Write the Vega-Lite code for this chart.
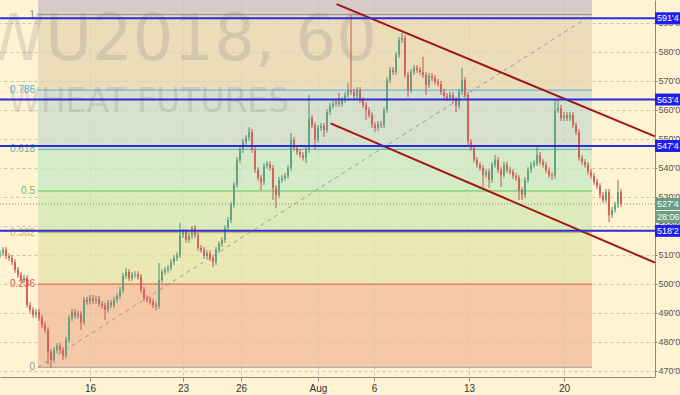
{
"$schema": "https://vega.github.io/schema/vega-lite/v6.json",
"width": 655, "height": 377,
"autosize": "none",
"padding": {"left": 0, "top": 0, "right": 25, "bottom": 18},
"background": "#FFF3D2",
"config": {"view": {"stroke": null}, "scale": {"continuousPadding": 0}, "axis": {"titleFontSize": 0, "titlePadding": 0, "labelOverlap": false, "labelSeparation": 0}, "axisY": {"labelOverlap": false}, "axisRight": {"labelOverlap": false}},
"datasets": {
"one": [{}],
"bands": [
{"band": "top", "lo": 592.75, "hi": 640},
{"band": "b786", "lo": 566.75, "hi": 592.75},
{"band": "b618", "lo": 546.34, "hi": 566.75},
{"band": "b5", "lo": 532.0, "hi": 546.34},
{"band": "b382", "lo": 517.66, "hi": 532.0},
{"band": "b236", "lo": 499.92, "hi": 517.66},
{"band": "b0", "lo": 471.25, "hi": 499.92}
],
"fib": [
{"lvl": "0", "p": 471.25},
{"lvl": "0.236", "p": 499.92},
{"lvl": "0.382", "p": 517.66},
{"lvl": "0.5", "p": 532.0},
{"lvl": "0.618", "p": 546.34},
{"lvl": "0.786", "p": 566.75},
{"lvl": "1", "p": 592.75}
],
"blue": [
{"p": 591.5, "lab": "591'4"},
{"p": 563.5, "lab": "563'4"},
{"p": 547.5, "lab": "547'4"},
{"p": 518.25, "lab": "518'2"}
],
"channel": [
{"i": 112.2, "p": 596.4, "i2": 218.33, "p2": 550.8},
{"i": 110.2, "p": 555.3, "i2": 218.33, "p2": 507.3}
],
"trend": [
{"i": 12.67, "p": 471.25, "i2": 197.33, "p2": 592.75}
],
"candles": [
{"i":0,"o":510.0,"h":511.6,"l":509.0,"c":510.6},
{"i":1,"o":510.6,"h":512.7,"l":509.6,"c":511.7},
{"i":2,"o":511.7,"h":512.7,"l":508.6,"c":509.6},
{"i":3,"o":509.6,"h":510.6,"l":507.9,"c":508.9},
{"i":4,"o":508.9,"h":509.9,"l":506.5,"c":507.5},
{"i":5,"o":507.5,"h":508.5,"l":503.8,"c":504.8},
{"i":6,"o":504.8,"h":505.8,"l":502.1,"c":503.1},
{"i":7,"o":503.1,"h":504.1,"l":500.3,"c":501.3},
{"i":8,"o":501.3,"h":503.0,"l":500.3,"c":502.0},
{"i":9,"o":502.0,"h":503.0,"l":491.7,"c":492.7},
{"i":10,"o":492.7,"h":493.7,"l":490.0,"c":491.0},
{"i":11,"o":491.0,"h":492.0,"l":488.3,"c":489.3},
{"i":12,"o":489.3,"h":491.3,"l":488.3,"c":490.3},
{"i":13,"o":490.3,"h":491.3,"l":487.2,"c":488.2},
{"i":14,"o":488.2,"h":489.2,"l":484.8,"c":485.8},
{"i":15,"o":485.8,"h":486.8,"l":483.1,"c":484.1},
{"i":16,"o":484.1,"h":485.1,"l":472.1,"c":476.5},
{"i":17,"o":476.5,"h":477.5,"l":471.25,"c":473.8},
{"i":18,"o":473.8,"h":478.2,"l":472.8,"c":477.2},
{"i":19,"o":477.2,"h":479.6,"l":476.2,"c":478.6},
{"i":20,"o":478.6,"h":479.6,"l":476.2,"c":477.2},
{"i":21,"o":477.2,"h":478.2,"l":473.8,"c":475.2},
{"i":22,"o":475.2,"h":481.7,"l":474.2,"c":480.7},
{"i":23,"o":480.7,"h":489.2,"l":479.7,"c":488.2},
{"i":24,"o":488.2,"h":491.3,"l":487.2,"c":490.3},
{"i":25,"o":490.3,"h":491.3,"l":488.0,"c":489.0},
{"i":26,"o":489.0,"h":490.6,"l":488.0,"c":489.6},
{"i":27,"o":489.6,"h":490.6,"l":484.1,"c":486.9},
{"i":28,"o":486.9,"h":495.5,"l":485.9,"c":494.5},
{"i":29,"o":494.5,"h":495.5,"l":492.8,"c":493.8},
{"i":30,"o":493.8,"h":496.1,"l":492.8,"c":495.1},
{"i":31,"o":495.1,"h":496.1,"l":493.1,"c":494.1},
{"i":32,"o":494.1,"h":495.8,"l":493.1,"c":494.8},
{"i":33,"o":494.8,"h":495.8,"l":492.1,"c":493.1},
{"i":34,"o":493.1,"h":494.1,"l":491.4,"c":492.4},
{"i":35,"o":492.4,"h":493.4,"l":487.6,"c":491.0},
{"i":36,"o":491.0,"h":494.4,"l":490.0,"c":493.4},
{"i":37,"o":493.4,"h":494.4,"l":491.7,"c":492.7},
{"i":38,"o":492.7,"h":495.5,"l":491.7,"c":494.5},
{"i":39,"o":494.5,"h":496.8,"l":493.5,"c":495.8},
{"i":40,"o":495.8,"h":498.9,"l":494.8,"c":497.9},
{"i":41,"o":497.9,"h":503.7,"l":496.9,"c":502.7},
{"i":42,"o":502.7,"h":505.5,"l":501.7,"c":504.1},
{"i":43,"o":504.1,"h":505.1,"l":501.0,"c":502.0},
{"i":44,"o":502.0,"h":504.1,"l":501.0,"c":503.1},
{"i":45,"o":503.1,"h":504.4,"l":502.1,"c":503.4},
{"i":46,"o":503.4,"h":504.4,"l":501.4,"c":502.4},
{"i":47,"o":502.4,"h":503.4,"l":496.9,"c":497.9},
{"i":48,"o":497.9,"h":498.9,"l":494.1,"c":495.1},
{"i":49,"o":495.1,"h":496.1,"l":493.5,"c":494.5},
{"i":50,"o":494.5,"h":495.5,"l":492.8,"c":493.8},
{"i":51,"o":493.8,"h":494.8,"l":491.7,"c":492.7},
{"i":52,"o":492.7,"h":493.7,"l":491.0,"c":492.4},
{"i":53,"o":492.4,"h":507.2,"l":491.4,"c":501.3},
{"i":54,"o":501.3,"h":505.1,"l":500.3,"c":504.1},
{"i":55,"o":504.1,"h":505.8,"l":503.1,"c":504.8},
{"i":56,"o":504.8,"h":506.5,"l":503.8,"c":505.5},
{"i":57,"o":505.5,"h":508.5,"l":504.5,"c":507.5},
{"i":58,"o":507.5,"h":509.9,"l":506.5,"c":508.9},
{"i":59,"o":508.9,"h":510.9,"l":507.9,"c":509.9},
{"i":60,"o":509.9,"h":521.0,"l":508.9,"c":516.8},
{"i":61,"o":516.8,"h":518.9,"l":515.8,"c":517.9},
{"i":62,"o":517.9,"h":518.9,"l":514.1,"c":515.1},
{"i":63,"o":515.1,"h":517.5,"l":514.1,"c":516.5},
{"i":64,"o":516.5,"h":519.9,"l":515.5,"c":519.3},
{"i":65,"o":519.3,"h":520.3,"l":515.8,"c":516.8},
{"i":66,"o":516.8,"h":517.8,"l":511.4,"c":512.4},
{"i":67,"o":512.4,"h":513.4,"l":510.7,"c":511.7},
{"i":68,"o":511.7,"h":512.7,"l":508.6,"c":509.6},
{"i":69,"o":509.6,"h":511.6,"l":508.6,"c":510.6},
{"i":70,"o":510.6,"h":511.6,"l":507.9,"c":508.9},
{"i":71,"o":508.9,"h":509.9,"l":505.8,"c":507.5},
{"i":72,"o":507.5,"h":512.7,"l":506.5,"c":511.7},
{"i":73,"o":511.7,"h":514.7,"l":510.7,"c":513.7},
{"i":74,"o":513.7,"h":516.1,"l":512.7,"c":515.1},
{"i":75,"o":515.1,"h":520.3,"l":514.1,"c":519.3},
{"i":76,"o":519.3,"h":523.0,"l":518.3,"c":522.0},
{"i":77,"o":522.0,"h":528.2,"l":521.0,"c":527.2},
{"i":78,"o":527.2,"h":535.1,"l":526.2,"c":534.1},
{"i":79,"o":534.1,"h":543.7,"l":533.1,"c":542.7},
{"i":80,"o":542.7,"h":547.1,"l":541.7,"c":546.1},
{"i":81,"o":546.1,"h":549.9,"l":545.1,"c":548.9},
{"i":82,"o":548.9,"h":551.3,"l":547.9,"c":550.3},
{"i":83,"o":550.3,"h":554.0,"l":549.3,"c":552.3},
{"i":84,"o":552.3,"h":553.3,"l":545.1,"c":546.1},
{"i":85,"o":546.1,"h":547.1,"l":538.2,"c":539.2},
{"i":86,"o":539.2,"h":540.2,"l":535.5,"c":536.5},
{"i":87,"o":536.5,"h":537.5,"l":532.3,"c":535.1},
{"i":88,"o":535.1,"h":541.6,"l":534.1,"c":540.6},
{"i":89,"o":540.6,"h":542.3,"l":539.6,"c":541.3},
{"i":90,"o":541.3,"h":542.3,"l":538.9,"c":539.9},
{"i":91,"o":539.9,"h":540.9,"l":528.9,"c":533.0},
{"i":92,"o":533.0,"h":534.0,"l":526.1,"c":530.6},
{"i":93,"o":530.6,"h":536.8,"l":529.6,"c":535.8},
{"i":94,"o":535.8,"h":537.5,"l":534.8,"c":536.5},
{"i":95,"o":536.5,"h":538.2,"l":535.5,"c":537.2},
{"i":96,"o":537.2,"h":540.9,"l":536.2,"c":539.9},
{"i":97,"o":539.9,"h":552.0,"l":538.9,"c":549.6},
{"i":98,"o":549.6,"h":550.6,"l":545.8,"c":546.8},
{"i":99,"o":546.8,"h":547.8,"l":544.4,"c":545.4},
{"i":100,"o":545.4,"h":546.4,"l":543.4,"c":544.4},
{"i":101,"o":544.4,"h":545.4,"l":542.4,"c":543.4},
{"i":102,"o":543.4,"h":547.1,"l":541.6,"c":546.1},
{"i":103,"o":546.1,"h":565.1,"l":545.1,"c":557.1},
{"i":104,"o":557.1,"h":558.1,"l":553.7,"c":554.7},
{"i":105,"o":554.7,"h":555.7,"l":546.1,"c":549.6},
{"i":106,"o":549.6,"h":554.7,"l":548.6,"c":553.7},
{"i":107,"o":553.7,"h":555.4,"l":552.7,"c":554.4},
{"i":108,"o":554.4,"h":555.4,"l":550.6,"c":553.0},
{"i":109,"o":553.0,"h":560.2,"l":552.0,"c":559.2},
{"i":110,"o":559.2,"h":562.3,"l":558.2,"c":561.3},
{"i":111,"o":561.3,"h":563.0,"l":560.3,"c":562.0},
{"i":112,"o":562.0,"h":563.7,"l":561.0,"c":562.7},
{"i":113,"o":562.7,"h":565.8,"l":561.0,"c":562.0},
{"i":114,"o":562.0,"h":564.3,"l":561.0,"c":563.3},
{"i":115,"o":563.3,"h":566.1,"l":562.3,"c":565.1},
{"i":116,"o":565.1,"h":569.2,"l":564.1,"c":566.8},
{"i":117,"o":566.8,"h":592.75,"l":565.1,"c":566.1},
{"i":118,"o":566.1,"h":567.1,"l":563.7,"c":564.7},
{"i":119,"o":564.7,"h":567.8,"l":563.7,"c":566.8},
{"i":120,"o":566.8,"h":567.8,"l":562.3,"c":563.3},
{"i":121,"o":563.3,"h":564.3,"l":560.6,"c":561.6},
{"i":122,"o":561.6,"h":562.6,"l":556.5,"c":559.9},
{"i":123,"o":559.9,"h":560.9,"l":557.2,"c":558.2},
{"i":124,"o":558.2,"h":559.2,"l":553.7,"c":554.7},
{"i":125,"o":554.7,"h":555.7,"l":552.3,"c":553.7},
{"i":126,"o":553.7,"h":556.1,"l":552.7,"c":555.1},
{"i":127,"o":555.1,"h":556.1,"l":553.7,"c":554.7},
{"i":128,"o":554.7,"h":560.9,"l":553.7,"c":559.9},
{"i":129,"o":559.9,"h":571.2,"l":558.9,"c":570.2},
{"i":130,"o":570.2,"h":574.7,"l":569.2,"c":573.7},
{"i":131,"o":573.7,"h":574.7,"l":572.0,"c":573.0},
{"i":132,"o":573.0,"h":579.9,"l":572.0,"c":578.9},
{"i":133,"o":578.9,"h":585.0,"l":577.9,"c":584.0},
{"i":134,"o":584.0,"h":586.4,"l":583.0,"c":584.7},
{"i":135,"o":584.7,"h":585.7,"l":571.0,"c":572.0},
{"i":136,"o":572.0,"h":573.0,"l":564.4,"c":566.8},
{"i":137,"o":566.8,"h":574.0,"l":565.8,"c":573.0},
{"i":138,"o":573.0,"h":575.4,"l":572.0,"c":574.4},
{"i":139,"o":574.4,"h":575.4,"l":572.7,"c":573.7},
{"i":140,"o":573.7,"h":574.7,"l":572.0,"c":573.0},
{"i":141,"o":573.0,"h":578.2,"l":571.0,"c":572.0},
{"i":142,"o":572.0,"h":573.0,"l":565.1,"c":568.5},
{"i":143,"o":568.5,"h":572.6,"l":567.5,"c":571.6},
{"i":144,"o":571.6,"h":572.6,"l":569.9,"c":570.9},
{"i":145,"o":570.9,"h":571.9,"l":568.6,"c":569.6},
{"i":146,"o":569.6,"h":570.6,"l":567.9,"c":568.9},
{"i":147,"o":568.9,"h":569.9,"l":565.1,"c":566.1},
{"i":148,"o":566.1,"h":567.1,"l":563.7,"c":564.7},
{"i":149,"o":564.7,"h":565.7,"l":563.0,"c":564.0},
{"i":150,"o":564.0,"h":566.1,"l":563.0,"c":565.1},
{"i":151,"o":565.1,"h":566.1,"l":562.3,"c":563.3},
{"i":152,"o":563.3,"h":564.3,"l":559.2,"c":561.3},
{"i":153,"o":561.3,"h":567.1,"l":560.3,"c":566.1},
{"i":154,"o":566.1,"h":574.4,"l":565.1,"c":570.2},
{"i":155,"o":570.2,"h":571.2,"l":564.1,"c":565.1},
{"i":156,"o":565.1,"h":566.1,"l":547.9,"c":548.9},
{"i":157,"o":548.9,"h":549.9,"l":545.8,"c":546.8},
{"i":158,"o":546.8,"h":547.8,"l":541.7,"c":542.7},
{"i":159,"o":542.7,"h":543.7,"l":540.0,"c":541.0},
{"i":160,"o":541.0,"h":542.0,"l":538.9,"c":539.9},
{"i":161,"o":539.9,"h":540.9,"l":533.4,"c":537.5},
{"i":162,"o":537.5,"h":539.6,"l":536.5,"c":538.6},
{"i":163,"o":538.6,"h":539.6,"l":533.0,"c":535.8},
{"i":164,"o":535.8,"h":542.0,"l":534.8,"c":541.0},
{"i":165,"o":541.0,"h":544.4,"l":540.0,"c":542.7},
{"i":166,"o":542.7,"h":543.7,"l":538.2,"c":539.2},
{"i":167,"o":539.2,"h":540.2,"l":533.4,"c":537.5},
{"i":168,"o":537.5,"h":542.0,"l":536.5,"c":541.0},
{"i":169,"o":541.0,"h":542.0,"l":538.2,"c":539.2},
{"i":170,"o":539.2,"h":540.2,"l":537.6,"c":538.6},
{"i":171,"o":538.6,"h":539.6,"l":536.2,"c":537.2},
{"i":172,"o":537.2,"h":538.2,"l":535.5,"c":536.5},
{"i":173,"o":536.5,"h":537.5,"l":528.9,"c":532.3},
{"i":174,"o":532.3,"h":533.3,"l":528.9,"c":530.6},
{"i":175,"o":530.6,"h":536.8,"l":529.6,"c":535.8},
{"i":176,"o":535.8,"h":540.2,"l":534.8,"c":539.2},
{"i":177,"o":539.2,"h":542.0,"l":538.2,"c":541.0},
{"i":178,"o":541.0,"h":542.6,"l":540.0,"c":541.6},
{"i":179,"o":541.6,"h":547.2,"l":540.6,"c":544.4},
{"i":180,"o":544.4,"h":545.4,"l":541.0,"c":542.0},
{"i":181,"o":542.0,"h":543.0,"l":540.0,"c":541.0},
{"i":182,"o":541.0,"h":542.0,"l":538.2,"c":539.2},
{"i":183,"o":539.2,"h":540.2,"l":536.5,"c":537.5},
{"i":184,"o":537.5,"h":538.5,"l":535.8,"c":537.2},
{"i":185,"o":537.2,"h":563.3,"l":536.2,"c":559.9},
{"i":186,"o":559.9,"h":563.3,"l":558.9,"c":560.6},
{"i":187,"o":560.6,"h":561.6,"l":556.1,"c":557.1},
{"i":188,"o":557.1,"h":559.2,"l":556.1,"c":558.2},
{"i":189,"o":558.2,"h":559.2,"l":556.1,"c":557.1},
{"i":190,"o":557.1,"h":559.2,"l":556.1,"c":558.2},
{"i":191,"o":558.2,"h":559.2,"l":553.7,"c":554.7},
{"i":192,"o":554.7,"h":555.7,"l":551.3,"c":552.3},
{"i":193,"o":552.3,"h":553.3,"l":542.4,"c":543.4},
{"i":194,"o":543.4,"h":544.4,"l":541.0,"c":542.0},
{"i":195,"o":542.0,"h":543.0,"l":540.0,"c":541.0},
{"i":196,"o":541.0,"h":542.0,"l":537.6,"c":538.6},
{"i":197,"o":538.6,"h":539.6,"l":536.2,"c":537.2},
{"i":198,"o":537.2,"h":538.2,"l":534.1,"c":535.1},
{"i":199,"o":535.1,"h":536.1,"l":532.7,"c":533.7},
{"i":200,"o":533.7,"h":534.7,"l":529.6,"c":530.6},
{"i":201,"o":530.6,"h":531.6,"l":527.9,"c":528.9},
{"i":202,"o":528.9,"h":532.7,"l":527.9,"c":531.7},
{"i":203,"o":531.7,"h":532.7,"l":521.3,"c":523.7},
{"i":204,"o":523.7,"h":526.5,"l":522.7,"c":525.5},
{"i":205,"o":525.5,"h":528.2,"l":524.5,"c":527.2},
{"i":206,"o":527.2,"h":535.8,"l":526.2,"c":531.7},
{"i":207,"o":531.7,"h":532.7,"l":526.5,"c":527.5}
]
},
"layer": [
{
"data": {"name": "candles"},
"mark": {"type": "rule", "strokeWidth": 0},
"encoding": {
"x": {"field": "i", "type": "quantitative",
"scale": {"domain": [0, 218.33], "nice": false, "zero": false, "padding": 0},
"axis": {"orient": "bottom", "title": null, "values": [30, 61, 80.33, 106, 124.67, 156.33, 188],
"labelExpr": "datum.value < 40 ? '16' : datum.value < 70 ? '23' : datum.value < 90 ? '26' : datum.value < 115 ? 'Aug' : datum.value < 140 ? '6' : datum.value < 170 ? '13' : '20'",
"grid": true, "gridColor": "#9A9A9A", "gridOpacity": 0.55, "gridDash": [3, 3],
"domainColor": "#8A8A8A", "tickColor": "#8A8A8A", "tickSize": 4,
"labelColor": "#333333", "labelFont": "Liberation Sans", "labelFontSize": 10, "labelPadding": 2, "labelFlush": false, "labelOverlap": false}},
"y": {"field": "l", "type": "quantitative",
"scale": {"domain": [467.9, 597.8], "nice": false, "zero": false, "padding": 0},
"axis": {"orient": "right", "title": null, "tickCount": 13, "tickMinStep": 10,
"labelExpr": "format(datum.value, 'd') + \"'0\"",
"grid": true, "gridColor": "#9A9A9A", "gridOpacity": 0.55, "gridDash": [3, 3],
"domainColor": "#8A8A8A", "tickColor": "#8A8A8A", "tickSize": 2,
"labelColor": "#555555", "labelFont": "Liberation Sans", "labelFontSize": 9, "labelPadding": 1, "labelFlush": false, "labelOverlap": false, "labelSeparation": 0}},
"y2": {"field": "h"}
}
},
{
"data": {"name": "bands"},
"mark": {"type": "rect", "clip": true, "fillOpacity": 0.75},
"encoding": {
"x": {"datum": 12.67, "type": "quantitative"},
"x2": {"datum": 197.33},
"y": {"field": "lo", "type": "quantitative"},
"y2": {"field": "hi"},
"fill": {"field": "band", "type": "nominal", "legend": null,
"scale": {"domain": ["top", "b786", "b618", "b5", "b382", "b236", "b0"],
"range": ["#C8BEC5", "#E4D4B1", "#CBDBCB", "#C7E8C3", "#D2E8B1", "#E4E4AA", "#F2BB9A"]}}
}
},
{
"data": {"name": "one"},
"mark": {"type": "text", "text": "ZWU2018, 60", "align": "right", "baseline": "alphabetic", "font": "DejaVu Sans", "fontSize": 64, "fill": "#808080", "opacity": 0.22},
"encoding": {
"x": {"datum": 125.67, "type": "quantitative"},
"y": {"datum": 577.1, "type": "quantitative"}
}
},
{
"data": {"name": "one"},
"mark": {"type": "text", "text": "WHEAT FUTURES", "align": "left", "baseline": "alphabetic", "font": "DejaVu Sans", "fontSize": 33, "fill": "#808080", "opacity": 0.22},
"encoding": {
"x": {"datum": 2.67, "type": "quantitative"},
"y": {"datum": 559.2, "type": "quantitative"}
}
},
{
"data": {"name": "fib"},
"mark": {"type": "rule", "strokeWidth": 1},
"encoding": {
"x": {"datum": 12.67, "type": "quantitative"},
"x2": {"datum": 197.33},
"y": {"field": "p", "type": "quantitative"},
"color": {"field": "lvl", "type": "nominal", "legend": null,
"scale": {"domain": ["0", "0.236", "0.382", "0.5", "0.618", "0.786", "1"],
"range": ["#9A9A9A", "#E0534A", "#B9C24B", "#5CC45C", "#4DB89A", "#5AAEDC", "#8C8C8C"]}}
}
},
{
"data": {"name": "fib"},
"mark": {"type": "text", "align": "right", "baseline": "middle", "dx": -3, "font": "Liberation Sans", "fontSize": 10},
"encoding": {
"x": {"datum": 12.67, "type": "quantitative"},
"y": {"field": "p", "type": "quantitative"},
"text": {"field": "lvl"},
"color": {"field": "lvl", "type": "nominal", "legend": null}
}
},
{
"data": {"name": "trend"},
"mark": {"type": "rule", "stroke": "#9A9A9A", "strokeWidth": 1, "strokeDash": [4, 4]},
"encoding": {
"x": {"field": "i", "type": "quantitative"},
"x2": {"field": "i2"},
"y": {"field": "p", "type": "quantitative"},
"y2": {"field": "p2"}
}
},
{
"data": {"name": "one"},
"mark": {"type": "rule", "stroke": "#6F9E86", "strokeWidth": 1, "strokeDash": [1, 2]},
"encoding": {
"y": {"datum": 527.5, "type": "quantitative"}
}
},
{
"data": {"name": "candles"},
"mark": {"type": "rule", "strokeWidth": 1},
"encoding": {
"x": {"field": "i", "type": "quantitative"},
"y": {"field": "l", "type": "quantitative"},
"y2": {"field": "h"},
"color": {"condition": {"test": "datum.c >= datum.o", "value": "#4F8F6C"}, "value": "#C4554F"}
}
},
{
"data": {"name": "candles"},
"mark": {"type": "bar", "size": 2},
"encoding": {
"x": {"field": "i", "type": "quantitative"},
"y": {"field": "o", "type": "quantitative"},
"y2": {"field": "c"},
"color": {"condition": {"test": "datum.c >= datum.o", "value": "#62A383"}, "value": "#D6615A"}
}
},
{
"data": {"name": "channel"},
"mark": {"type": "rule", "stroke": "#A31515", "strokeWidth": 2},
"encoding": {
"x": {"field": "i", "type": "quantitative"},
"x2": {"field": "i2"},
"y": {"field": "p", "type": "quantitative"},
"y2": {"field": "p2"}
}
},
{
"data": {"name": "blue"},
"mark": {"type": "rule", "stroke": "#2B2BDD", "strokeWidth": 2},
"encoding": {
"y": {"field": "p", "type": "quantitative"}
}
},
{
"data": {"name": "blue"},
"mark": {"type": "tick", "orient": "horizontal", "size": 25, "thickness": 12, "xOffset": 12.5, "color": "#1E1EF0", "opacity": 1},
"encoding": {
"x": {"datum": 218.33, "type": "quantitative"},
"y": {"field": "p", "type": "quantitative"}
}
},
{
"data": {"name": "blue"},
"mark": {"type": "text", "align": "left", "baseline": "middle", "dx": 2, "fill": "#FFFFFF", "font": "Liberation Sans", "fontSize": 9},
"encoding": {
"x": {"datum": 218.33, "type": "quantitative"},
"y": {"field": "p", "type": "quantitative"},
"text": {"field": "lab"}
}
},
{
"data": {"name": "one"},
"mark": {"type": "tick", "orient": "horizontal", "size": 25, "thickness": 12, "xOffset": 12.5, "color": "#689E84", "opacity": 1},
"encoding": {
"x": {"datum": 218.33, "type": "quantitative"},
"y": {"datum": 527.5, "type": "quantitative"}
}
},
{
"data": {"name": "one"},
"mark": {"type": "text", "text": "527'4", "align": "left", "baseline": "middle", "dx": 2, "fill": "#FFFFFF", "font": "Liberation Sans", "fontSize": 9},
"encoding": {
"x": {"datum": 218.33, "type": "quantitative"},
"y": {"datum": 527.5, "type": "quantitative"}
}
},
{
"data": {"name": "one"},
"mark": {"type": "tick", "orient": "horizontal", "size": 25, "thickness": 12, "xOffset": 12.5, "yOffset": 13, "color": "#689E84", "opacity": 1},
"encoding": {
"x": {"datum": 218.33, "type": "quantitative"},
"y": {"datum": 527.5, "type": "quantitative"}
}
},
{
"data": {"name": "one"},
"mark": {"type": "text", "text": "28:06", "align": "left", "baseline": "middle", "dx": 2, "yOffset": 13, "fill": "#FFFFFF", "font": "Liberation Sans", "fontSize": 9},
"encoding": {
"x": {"datum": 218.33, "type": "quantitative"},
"y": {"datum": 527.5, "type": "quantitative"}
}
}
]
}
